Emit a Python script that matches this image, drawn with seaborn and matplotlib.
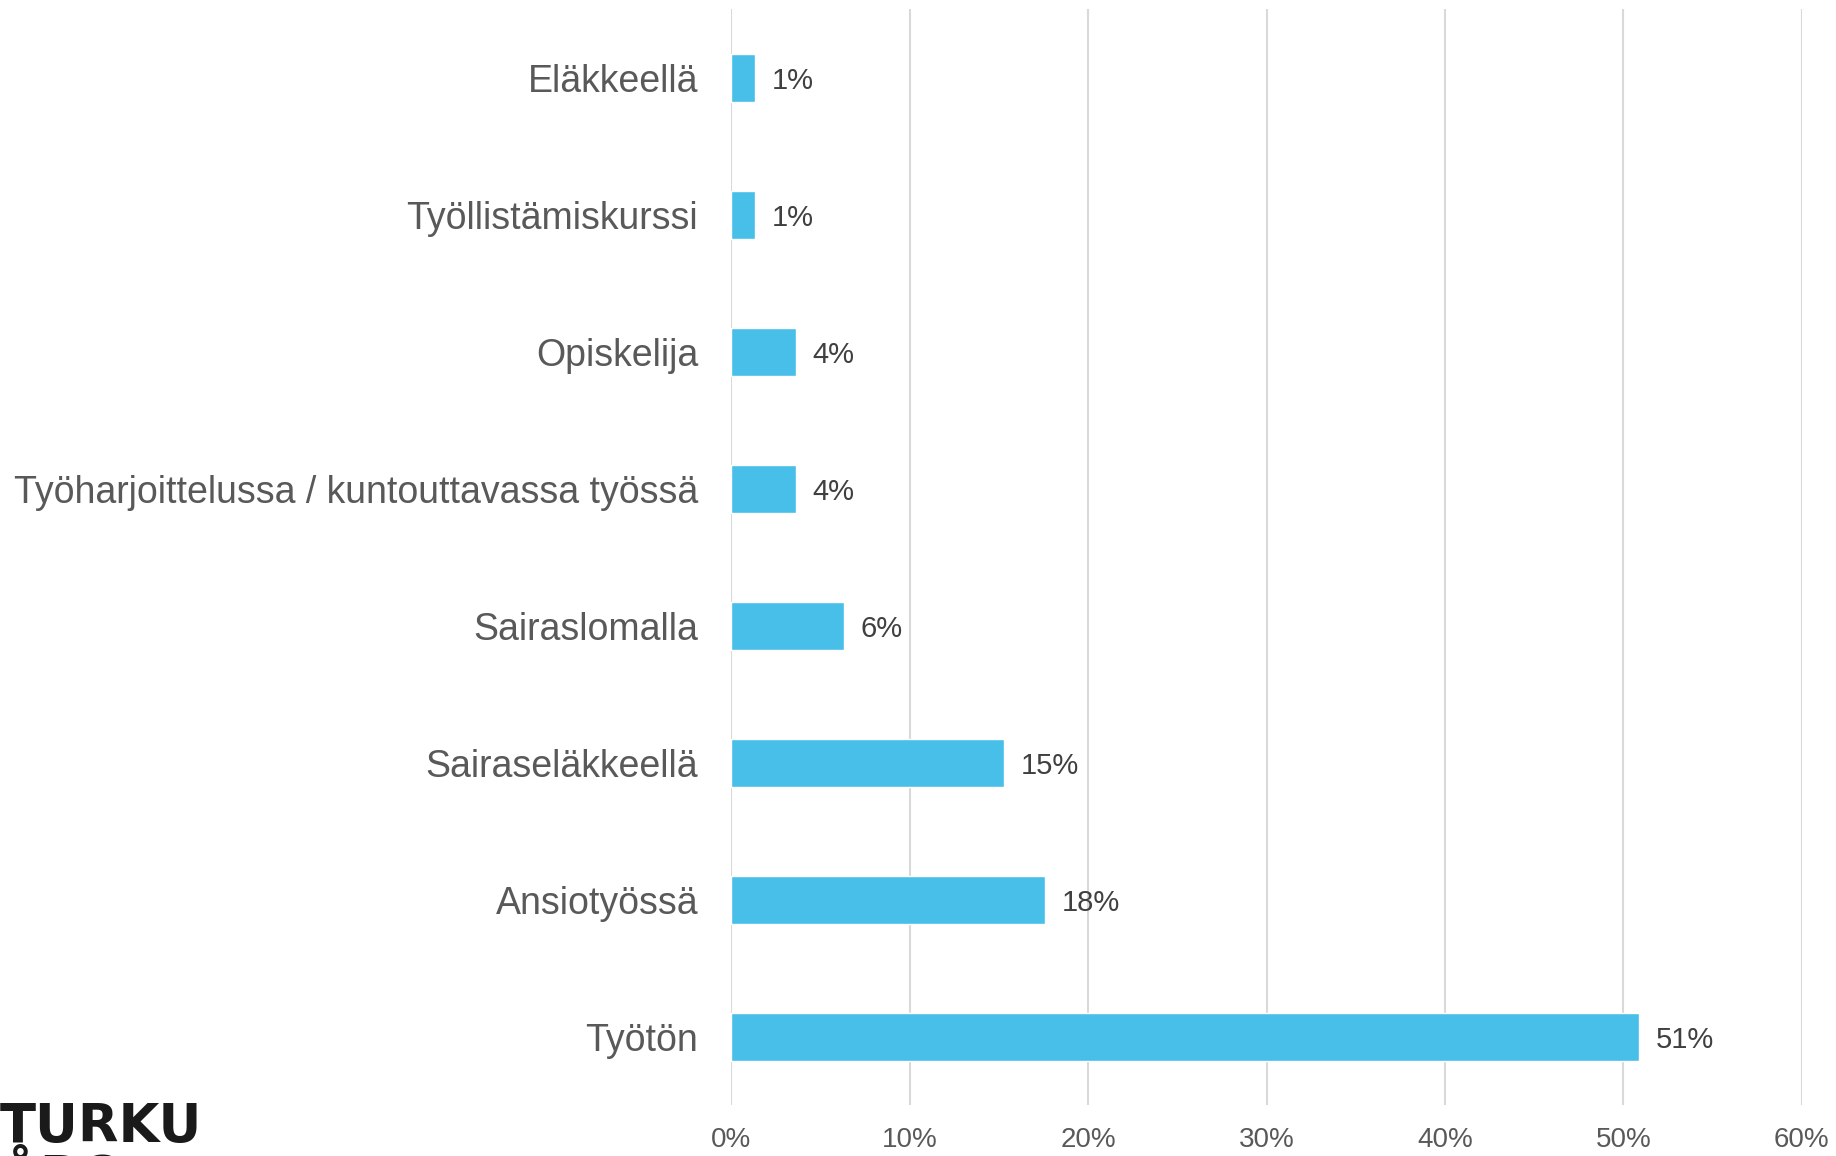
import matplotlib
matplotlib.use("Agg")
import matplotlib.pyplot as plt
import seaborn as sns
import pandas as pd

# values (shares), top to bottom
categories = [
    "Eläkkeellä",
    "Työllistämiskurssi",
    "Opiskelija",
    "Työharjoittelussa / kuntouttavassa työssä",
    "Sairaslomalla",
    "Sairaseläkkeellä",
    "Ansiotyössä",
    "Työtön",
]
shares = [0.013, 0.013, 0.036, 0.036, 0.063, 0.153, 0.176, 0.509]
x_ticks = [0, 0.1, 0.2, 0.3, 0.4, 0.5, 0.6]
x_tick_labels = ["0%", "10%", "20%", "30%", "40%", "50%", "60%"]

df = pd.DataFrame({"Tilanne": categories, "Osuus": shares})

sns.set_theme(style="white")
plt.rcParams["font.family"] = ["Liberation Sans", "DejaVu Sans"]

fig = plt.figure(figsize=(18.36, 11.56), dpi=100)
ax = fig.add_axes([0.3984, 0.044, 0.5829, 0.948])

sns.barplot(data=df, x="Osuus", y="Tilanne", order=categories,
            color="#47BFE9", saturation=1, width=0.35, ax=ax)

ax.set_xlim(0, 0.6)
ax.set_ylim(7.5, -0.5)
ax.set_xticks(x_ticks)
ax.set_xticklabels(x_tick_labels, fontsize=20, color="#595959")
ax.tick_params(axis="x", length=0, pad=16)
ax.tick_params(axis="y", length=0, pad=24, labelsize=27, labelcolor="#595959")
ax.set_xlabel("")
ax.set_ylabel("")
ax.xaxis.grid(True, color="#D9D9D9", linewidth=1.5)
ax.set_axisbelow(True)
for s in ax.spines.values():
    s.set_visible(False)

for i, v in enumerate(shares):
    ax.annotate(f"{v:.0%}", xy=(v, i), xytext=(12, 0), textcoords="offset points",
                va="center_baseline", ha="left", fontsize=21, color="#404040")

# logo fragment bottom-left (cut off by the figure edge as in the original)
fig.text(0.0, 0.012, "TURKU", fontsize=38, fontweight="bold", color="#1a1a1a",
         ha="left", va="baseline", family="DejaVu Sans")
fig.text(0.0, -0.033, "ÅBO", fontsize=38, fontweight="bold", color="#1a1a1a",
         ha="left", va="baseline", family="DejaVu Sans")

fig.savefig("out.png", dpi=100)
